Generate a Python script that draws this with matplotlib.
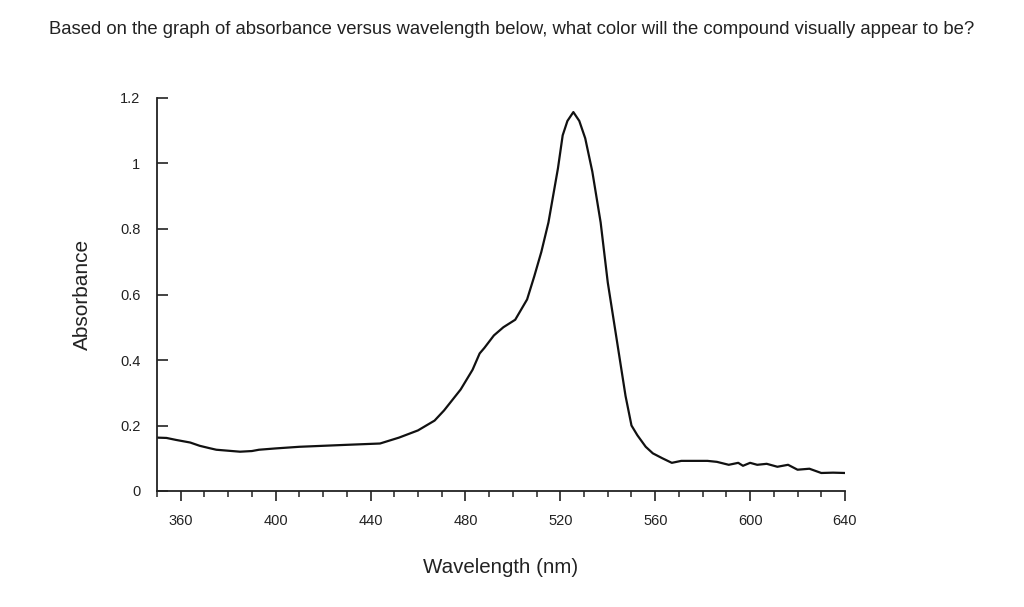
import matplotlib.pyplot as plt
from matplotlib.ticker import MultipleLocator

plt.rcParams['font.family'] = ['Liberation Sans', 'DejaVu Sans']

# spectrum (nm, absorbance)
wavelength = [350, 354, 358, 364, 368, 372, 375, 380, 385, 390, 393, 400, 410,
              420, 430, 444, 452, 460, 467, 471, 478, 483, 486, 488, 492, 496,
              501, 506, 509, 512, 515, 519, 521, 523, 525.5, 528, 530.5, 533.5,
              537, 540, 544, 547.5, 550, 552.5, 556, 559, 563, 567, 571, 576,
              582, 586, 591, 595, 597, 600, 603, 607, 611.5, 616, 620, 625,
              630, 635, 640]
absorbance = [0.163, 0.162, 0.156, 0.148, 0.138, 0.131, 0.126, 0.123, 0.12,
              0.122, 0.126, 0.13, 0.135, 0.138, 0.141, 0.145, 0.163, 0.185,
              0.215, 0.246, 0.31, 0.37, 0.42, 0.437, 0.475, 0.5, 0.523, 0.585,
              0.655, 0.73, 0.82, 0.985, 1.086, 1.13, 1.157, 1.13, 1.077, 0.975,
              0.82, 0.637, 0.452, 0.29, 0.2, 0.17, 0.135, 0.115, 0.1, 0.086,
              0.092, 0.092, 0.092, 0.089, 0.08, 0.086, 0.077, 0.086, 0.08,
              0.083, 0.074, 0.08, 0.065, 0.068, 0.055, 0.056, 0.055]

yticks = [0, 0.2, 0.4, 0.6, 0.8, 1, 1.2]
ytick_labels = ['0', '0.2', '0.4', '0.6', '0.8', '1', '1.2']
xticks = [360, 400, 440, 480, 520, 560, 600, 640]

fig = plt.figure(figsize=(10.24, 6.07), dpi=100)
fig.text(0.5, 1 - 30 / 607, 'Based on the graph of absorbance versus wavelength below, '
         'what color will the compound visually appear to be?',
         ha='center', va='center', fontsize=13.3, color='#222222')

ax = fig.add_axes([157 / 1024, 116 / 607, 688 / 1024, 393 / 607])
ax.plot(wavelength, absorbance, color='#111111', lw=1.6)

ax.set_xlim(350, 640)
ax.set_ylim(0, 1.2)
ax.spines['top'].set_visible(False)
ax.spines['right'].set_visible(False)
for s in ('left', 'bottom'):
    ax.spines[s].set_linewidth(1.3)
    ax.spines[s].set_color('#222222')

ax.set_yticks(yticks)
ax.set_yticklabels(ytick_labels)
ax.set_xticks(xticks)
ax.xaxis.set_minor_locator(MultipleLocator(10))
ax.tick_params(axis='y', direction='in', length=8, width=1.2, pad=12,
               labelsize=10.5, colors='#222222')
ax.tick_params(axis='x', which='major', direction='out', length=7.5, width=1.2,
               pad=9, labelsize=10.5, colors='#222222')
ax.tick_params(axis='x', which='minor', direction='out', length=4, width=1.1,
               colors='#222222')

ax.set_xlabel('Wavelength (nm)', fontsize=14.8, labelpad=22, color='#222222')
ax.set_ylabel('Absorbance', fontsize=15, labelpad=20, color='#222222')

fig.savefig('out.png', dpi=100, facecolor='white')
